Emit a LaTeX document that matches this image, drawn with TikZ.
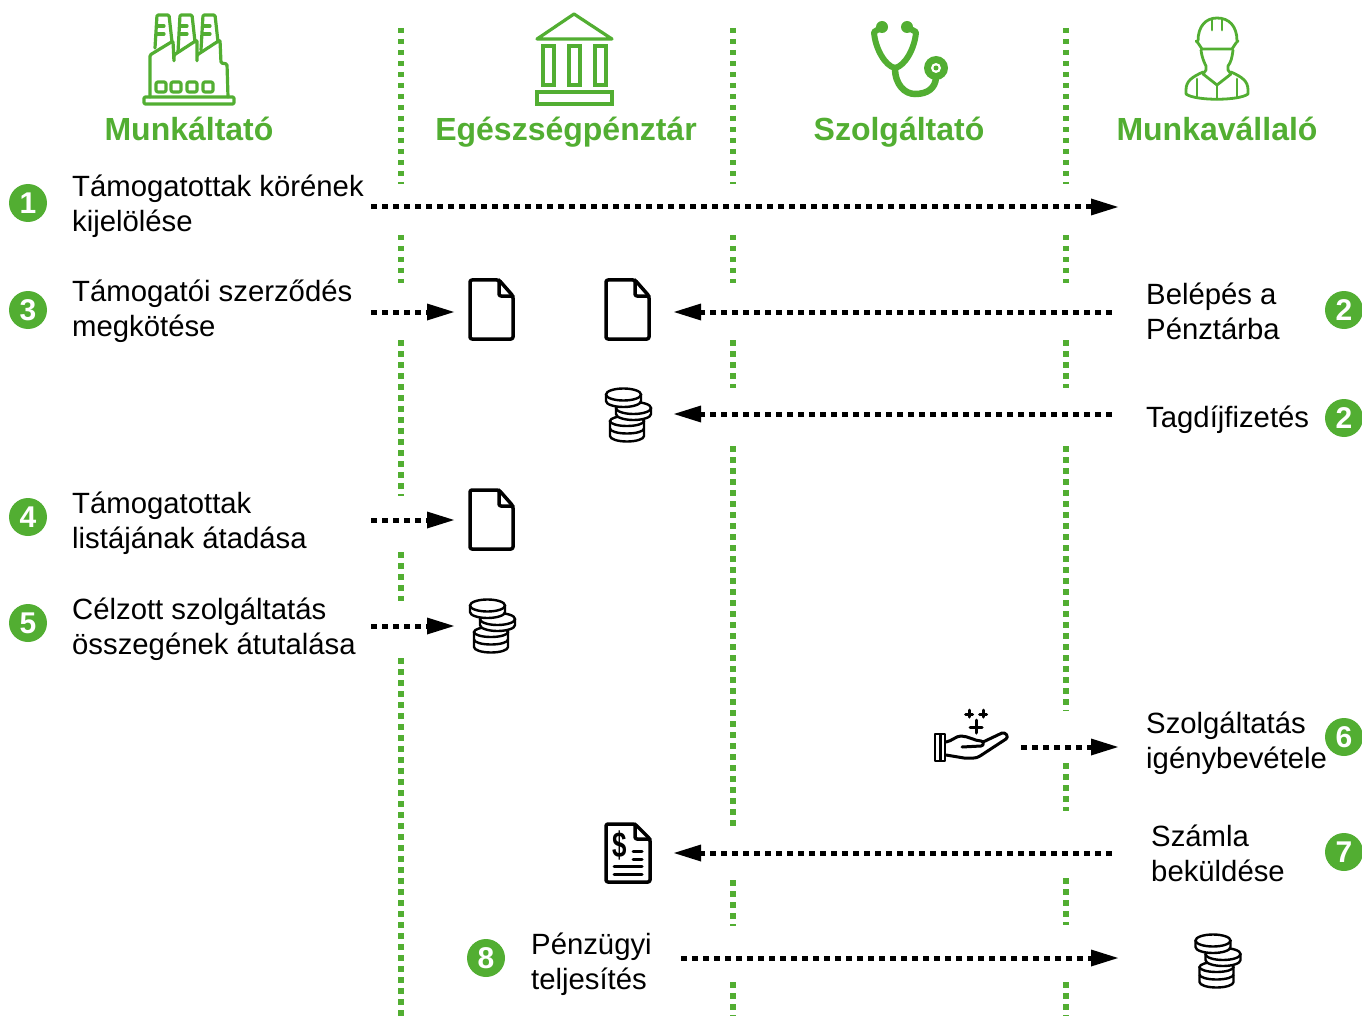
\documentclass[tikz,border=0pt]{standalone}
\usepackage{fontspec}
\setmainfont{Liberation Sans}
\usetikzlibrary{arrows.meta}
\definecolor{gr}{HTML}{52AE32}
\tikzset{
 x=1pt,y=-1pt,
 sep/.style={gr,line width=5.5pt,dash pattern=on 5.5pt off 5.5pt},
 flow/.style={black,line width=5pt,dash pattern=on 6pt off 5pt,-{Triangle[length=27pt,width=17pt,line width=0pt]}},
 badge/.style={circle,fill=gr,text=white,inner sep=0pt,minimum size=38pt,font=\fontsize{30}{30}\selectfont\bfseries},
 lab/.style={anchor=west,inner sep=0pt,align=left,font=\fontsize{29.3}{35}\selectfont,text=black},
 head/.style={inner sep=0pt,anchor=base,text=gr,font=\fontsize{32}{36}\selectfont\bfseries},
 ic/.style={line width=3.5pt,line join=round,line cap=round,rounded corners=2pt},
 gi/.style={gr,line width=3.2pt,line join=round,line cap=round},
 pics/docu/.style={code={
  \draw[ic,fill=white] (-21,-30) -- (8,-30) -- (22,-14) -- (22,29) -- (-21,29) -- cycle;
  \draw[ic] (8,-30) -- (8,-14) -- (22,-14);
 }},
 pics/coins/.style={code={
  \begin{scope}[line width=2.4pt,black]
  % lower stack
  \draw[fill=white] (-18,7) -- (-18,22) arc[start angle=180,end angle=360,x radius=17,y radius=-5.5] -- (16,7);
  \draw (-18,14.5) arc[start angle=180,end angle=360,x radius=17,y radius=-5];
  \draw[fill=white] (-1,7) ellipse[x radius=17,y radius=5];
  % middle coin
  \draw[fill=white] (-12,-6) -- (-12,0) arc[start angle=180,end angle=360,x radius=17.5,y radius=-6] -- (23,-6);
  \draw[fill=white] (5.5,-6) ellipse[x radius=17.5,y radius=6];
  % top coin
  \draw[fill=white] (-22,-19.5) -- (-22,-13) arc[start angle=180,end angle=360,x radius=17.5,y radius=-6] -- (13,-19.5);
  \draw[fill=white] (-4.5,-19.5) ellipse[x radius=17.5,y radius=6];
  \end{scope}
 }},
}
\begin{document}
\begin{tikzpicture}
\useasboundingbox (0,0) rectangle (1362,1016);
% separators
\foreach \a/\b in {28/184,235/283,340/496,552/601,658/1016}{\draw[sep] (401,\a) -- (401,\b);}
\foreach \a/\b in {28/184,235/283,340/388,446/830,880/926,982/1016}{\draw[sep] (733,\a) -- (733,\b);}
\foreach \a/\b in {28/184,235/283,340/388,446/711,763/811,878/925,982/1016}{\draw[sep] (1066,\a) -- (1066,\b);}
% headings
\node[head] (h1) at (189,140.5) {Munkáltató};
\node[head] (h2) at (566,140.5) {Egészségpénztár};
\node[head] (h3) at (899,140.5) {Szolgáltató};
\node[head] (h4) at (1217,140.5) {Munkavállaló};
% factory
\begin{scope}[gi,rounded corners=1.2pt]
\draw[gi] (144,97) rectangle (234,104);
\draw[gi] (150,97) -- (150,55) -- (173,41) -- (174,62) -- (174,55) -- (197,40) -- (197,62) -- (197,55) -- (220,40) -- (221,63) -- (227,64) -- (228,97);
\draw[gi] (155,48) -- (157,15) -- (169,15) -- (172,42);
\draw[gi] (178,52) -- (180,15) -- (192,15) -- (195,42);
\draw[gi] (201,50) -- (203,15) -- (215,15) -- (218,42);
\foreach \xx in {157,180,203}{\draw[gi] (\xx,26) -- (\xx+7,26); \draw[gi] (\xx,34) -- (\xx+7,34);}
\foreach \xx in {156,171,187,203}{\draw[gi,rounded corners=2pt] (\xx,82) rectangle (\xx+10,92);}
\end{scope}
% bank
\draw[gi] (574,14) -- (537,39) -- (612,39) -- cycle;
\foreach \xx in {543,569,595}{\draw[gi,line cap=butt,line join=miter] (\xx,46) rectangle (\xx+11,85);}
\draw[gi,line join=miter] (537,92) rectangle (612,104);
% stethoscope
\draw[gr,line width=6pt,line cap=round,line join=round] (882,27) -- (874,32) .. controls (875,48) and (885,66) .. (895,68) .. controls (905,66) and (915,48) .. (916,32) -- (907,27);
\draw[gr,line width=6.5pt,line cap=round] (895,68) .. controls (895,85) and (905,94) .. (915,94) .. controls (928,94) and (935,88) .. (936,78);
\fill[gr] (882,27) circle (6);
\fill[gr] (907,27) circle (6);
\fill[gr] (936,68) circle (12);
\fill[white] (936,68) circle (5);
\fill[gr] (936,68) circle (2.5);
% worker
\begin{scope}[gr,line width=2.8pt,line join=round,line cap=round]
\draw (1198,41) .. controls (1198,26) and (1206,18) .. (1217,18) .. controls (1229,18) and (1237,26) .. (1237,41);
\draw (1196,41) -- (1198,43) -- (1202,49) -- (1232,49) -- (1236,43) -- (1238,41);
\draw (1212,19) -- (1212,30); \draw (1222,19) -- (1222,30);
\draw (1201,50) .. controls (1202,58) and (1204,62) .. (1206,66) -- (1206,70) -- (1203,74) -- (1217,85) -- (1231,74) -- (1228,70) -- (1228,66) .. controls (1231,62) and (1232,58) .. (1233,50);
\draw (1203,72) .. controls (1192,77) and (1186,81) .. (1186,90) -- (1186,94) .. controls (1195,101) and (1239,101) .. (1248,94) -- (1248,90) .. controls (1248,81) and (1242,77) .. (1231,72);
\draw (1217,85) -- (1217,99);
\draw (1197,79) -- (1197,97); \draw (1237,79) -- (1237,97);
\end{scope}
% labels and badges
\node[badge] (b1) at (28,203) {1};
\node[lab] (t1) at (72,206) {Támogatottak körének\\kijelölése};
\node[badge] (b3) at (28,310) {3};
\node[lab] (t3) at (72,311.5) {Támogatói szerződés\\megkötése};
\node[badge] (b4) at (28,517) {4};
\node[lab] (t4) at (72,523) {Támogatottak\\listájának átadása};
\node[badge] (b5) at (28,623) {5};
\node[lab] (t5) at (72,629.5) {Célzott szolgáltatás\\összegének átutalása};
\node[badge] (b2a) at (1344,310) {2};
\node[lab] (t2a) at (1146,311) {Belépés a\\Pénztárba};
\node[badge] (b2b) at (1344,418) {2};
\node[lab] (t2b) at (1146,420) {Tagdíjfizetés};
\node[badge] (b6) at (1344,737) {6};
\node[lab] (t6) at (1146,743) {Szolgáltatás\\igénybevétele};
\node[badge] (b7) at (1344,852) {7};
\node[lab] (t7) at (1151,853) {Számla\\beküldése};
\node[badge] (b8) at (486,958) {8};
\node[lab] (t8) at (531,964) {Pénzügyi\\teljesítés};
% icons
\pic at (491,310) {docu};
\pic at (627,310) {docu};
\pic at (491,520) {docu};
\pic at (628,414) {coins};
\pic at (492,625) {coins};
\pic at (1217.5,960) {coins};
% invoice
\draw[ic,fill=white] (606,824) -- (635,824) -- (650,839) -- (650,882) -- (606,882) -- cycle;
\draw[ic] (635,824) -- (635,839) -- (650,839);
\node[inner sep=0pt,font=\fontsize{36}{36}\selectfont\bfseries] (dollar) at (620,845) {\scalebox{.72}[1]{\$}};
\draw[black,line width=3pt,line cap=round] (633,851) -- (642,851) (633,859) -- (642,859) (614,866) -- (642,866) (614,874) -- (642,874);
% hand
\begin{scope}[black,line width=3pt,line join=round,line cap=round]
\draw[line width=2.8pt] (935,734) rectangle (945,761);
\draw (940,735) -- (940,760);
\draw (946,742) .. controls (952,741) and (956,736) .. (961,736) .. controls (968,736) and (975,741) .. (981,741) .. controls (984,741) and (984,746) .. (981,746) -- (962,747);
\draw (983,742) -- (1002,733) .. controls (1006,732) and (1009,737) .. (1006,739) -- (980,756) .. controls (976,759) and (970,758) .. (964,758) -- (946,755);
\draw (969,710) -- (969,717) (965.5,714) -- (972.5,714);
\draw (983,710) -- (983,717) (979.5,714) -- (986.5,714);
\draw (976,720) -- (976,733) (970,727) -- (982,727);
\end{scope}
% connectors
\coordinate (a1) at (371,207); \coordinate (e1) at (1118,207);
\coordinate (a3) at (371,312); \coordinate (e3) at (454,312);
\coordinate (a2) at (1112,312); \coordinate (e2) at (674,312);
\coordinate (a2b) at (1112,414); \coordinate (e2b) at (674,414);
\coordinate (a4) at (371,520); \coordinate (e4) at (454,520);
\coordinate (a5) at (371,626); \coordinate (e5) at (454,626);
\coordinate (a6) at (1021,747); \coordinate (e6) at (1118,747);
\coordinate (a7) at (1112,853); \coordinate (e7) at (674,853);
\coordinate (a8) at (681,958); \coordinate (e8) at (1118,958);
\foreach \p/\q in {a1/e1,a3/e3,a2/e2,a2b/e2b,a4/e4,a5/e5,a6/e6,a7/e7,a8/e8}{\draw[flow] (\p) -- (\q);}
\end{tikzpicture}
\end{document}
